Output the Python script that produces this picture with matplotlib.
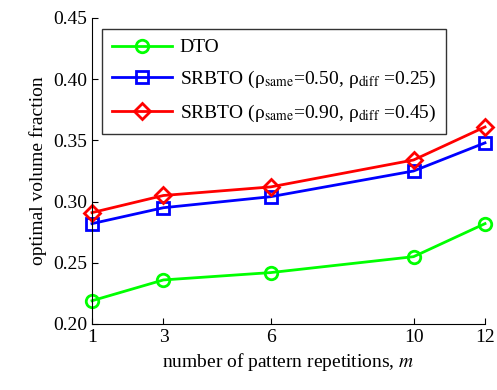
import numpy as np
import matplotlib
matplotlib.use("Agg")
import matplotlib.pyplot as plt

plt.rcParams['font.family'] = ['Liberation Serif', 'DejaVu Serif']
plt.rcParams['mathtext.fontset'] = 'stix'

# data
m = np.array([1, 3, 6, 10, 12])
dto = np.array([0.219, 0.236, 0.242, 0.255, 0.282])
srbto_050 = np.array([0.282, 0.295, 0.304, 0.325, 0.348])
srbto_090 = np.array([0.291, 0.305, 0.312, 0.334, 0.361])

fig = plt.figure(figsize=(4.97, 3.9), dpi=100)
ax = fig.add_axes([92/497, 1 - 324/390, (485 - 92)/497, (324 - 18)/390])

ax.plot(m, dto, color=(0, 1, 0), lw=2, marker='o', ms=9, mfc='none', mew=2, label='DTO', clip_on=False)
ax.plot(m, srbto_050, color=(0, 0, 1), lw=2, marker='s', ms=9, mfc='none', mew=2,
        label=r'SRBTO (ρ$_{\mathrm{same}}$=0.50, ρ$_{\mathrm{diff}}$ =0.25)', clip_on=False)
ax.plot(m, srbto_090, color=(1, 0, 0), lw=2, marker='D', ms=8, mfc='none', mew=2,
        label=r'SRBTO (ρ$_{\mathrm{same}}$=0.90, ρ$_{\mathrm{diff}}$ =0.45)', clip_on=False)

ax.set_xlim(1, 12)
ax.set_ylim(0.20, 0.45)
ax.set_xticks(m)
ax.set_yticks([0.20, 0.25, 0.30, 0.35, 0.40, 0.45])
ax.set_yticklabels(['0.20', '0.25', '0.30', '0.35', '0.40', '0.45'])
ax.tick_params(direction='in', length=4, labelsize=14)
ax.spines['top'].set_visible(False)
ax.spines['right'].set_visible(False)

ax.set_xlabel(r'number of pattern repetitions, $m$', fontsize=14)
ax.set_ylabel('optimal volume fraction', fontsize=14)

leg = ax.legend(loc='upper left', bbox_to_anchor=(0.025, 0.964), borderaxespad=0, fontsize=14,
                handlelength=3.1, handletextpad=0.4, frameon=True, fancybox=False,
                borderpad=0.5, labelspacing=0.65)
leg.get_frame().set_edgecolor('black')
leg.get_frame().set_linewidth(1)

plt.savefig("out.png", dpi=100)
